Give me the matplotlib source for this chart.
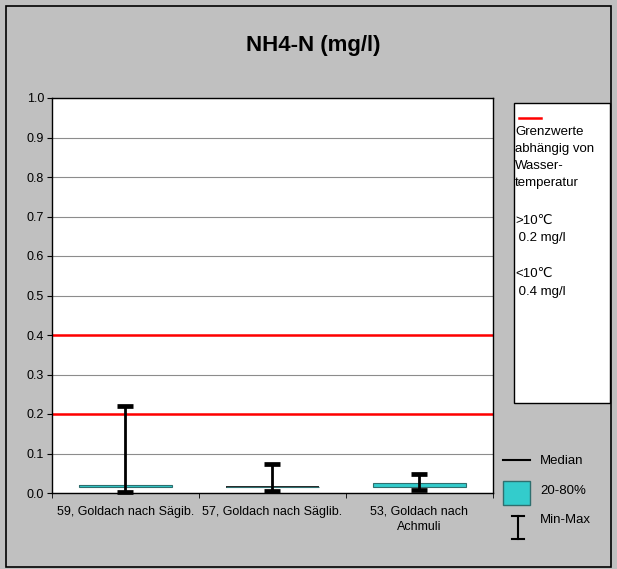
import numpy as np
import matplotlib
matplotlib.use('Agg')
from matplotlib import pyplot as plt
from matplotlib.patches import Rectangle
from matplotlib.lines import Line2D

plt.rcParams['font.family'] = ['Liberation Sans', 'DejaVu Sans']

categories = ['59, Goldach nach Sägib.', '57, Goldach nach Säglib.', '53, Goldach nach\nAchmuli']
p20 = [0.0145, 0.016, 0.0145]
p80 = [0.0195, 0.016, 0.0245]
median = [0.017, 0.016, 0.0195]
vmin = [0.002, 0.005, 0.008]
vmax = [0.219, 0.073, 0.047]
limits = [0.2, 0.4]
yticks = np.arange(0, 1.01, 0.1)
legend_lines = ['Grenzwerte', 'abhängig von', 'Wasser-', 'temperatur', '',
                '>10℃', ' 0.2 mg/l', '', '<10℃', ' 0.4 mg/l']

W, H = 617, 569
fig = plt.figure(figsize=(W / 100, H / 100), dpi=100)
fig.patch.set_facecolor('#C0C0C0')

def fx(px):
    return px / W

def fy(py):
    return 1 - py / H

# outer frame
fig.patches.append(Rectangle((fx(6), fy(567)), fx(605), 561 / H, transform=fig.transFigure,
                             fill=False, edgecolor='black', lw=1.2))

ax = fig.add_axes([fx(52), fy(493), fx(441), 395 / H])
ax.set_facecolor('white')
x = np.arange(len(categories))

ax.set_ylim(0, 1.0)
ax.set_xlim(-0.5, 2.5)
ax.set_yticks(yticks)
ax.set_yticklabels(['%.1f' % t for t in yticks], fontsize=9)
ax.yaxis.grid(True, color='#8c8c8c', lw=0.8)
ax.set_axisbelow(True)
ax.tick_params(axis='y', length=3.6, pad=2.2, color='black')
ax.set_xticks(x)
ax.set_xticklabels(categories, fontsize=9, va='top', linespacing=1.35)
ax.set_xticks([-0.5, 0.5, 1.5, 2.5], minor=True)
ax.tick_params(axis='x', which='major', length=0, pad=9)
ax.tick_params(axis='x', which='minor', length=3.6, color='black')
for s in ax.spines.values():
    s.set_color('black')
    s.set_linewidth(1)

for lim in limits:
    ax.axhline(lim, color='#FF0000', lw=1.8, zorder=2)

bw = 0.63
ax.hlines(median, x - bw / 2, x + bw / 2, color='black', lw=1.2, zorder=3)
ax.bar(x, np.array(p80) - np.array(p20), bottom=p20, width=bw, color='#33CCCC',
       edgecolor='#2F6F6F', lw=0.8, zorder=4)
mid = (np.array(vmin) + np.array(vmax)) / 2
err = [mid - np.array(vmin), np.array(vmax) - mid]
eb = ax.errorbar(x, mid, yerr=err, fmt='none', ecolor='black', elinewidth=2,
                 capsize=5.7, capthick=3.4, zorder=5)
for art in eb.lines[1] + eb.lines[2]:
    art.set_clip_on(False)

# limits legend box
fig.patches.append(Rectangle((fx(514), fy(403)), fx(96), 300 / H, transform=fig.transFigure,
                             facecolor='white', edgecolor='black', lw=1))
fig.lines.append(Line2D([fx(519), fx(541)], [fy(118), fy(118)], transform=fig.transFigure,
                        color='#FF0000', lw=1.8))
ys = [131.7, 148.7, 166, 183.3, 0, 221, 238, 0, 274, 291.5]
for txt, yy in zip(legend_lines, ys):
    if txt:
        fig.text(fx(515), fy(yy), txt, fontsize=9.5, ha='left', va='center')

# series legend
fig.lines.append(Line2D([fx(503), fx(530)], [fy(460), fy(460)], transform=fig.transFigure,
                        color='black', lw=1.5))
fig.patches.append(Rectangle((fx(503), fy(505)), fx(27), 24 / H, transform=fig.transFigure,
                             facecolor='#33CCCC', edgecolor='#2F6F6F', lw=1))
fig.lines.append(Line2D([fx(518), fx(518)], [fy(516), fy(539)], transform=fig.transFigure,
                        color='black', lw=1.5))
for yy in (516, 539):
    fig.lines.append(Line2D([fx(512), fx(524)], [fy(yy), fy(yy)], transform=fig.transFigure,
                            color='black', lw=1.5))
for txt, yy in zip(['Median', '20-80%', 'Min-Max'], [461, 491, 520]):
    fig.text(fx(540), fy(yy), txt, fontsize=9.5, ha='left', va='center')

fig.text(fx(313), fy(46), 'NH4-N (mg/l)', fontsize=16, fontweight='bold', ha='center', va='center')

fig.savefig('out.png', dpi=100, facecolor=fig.get_facecolor())
